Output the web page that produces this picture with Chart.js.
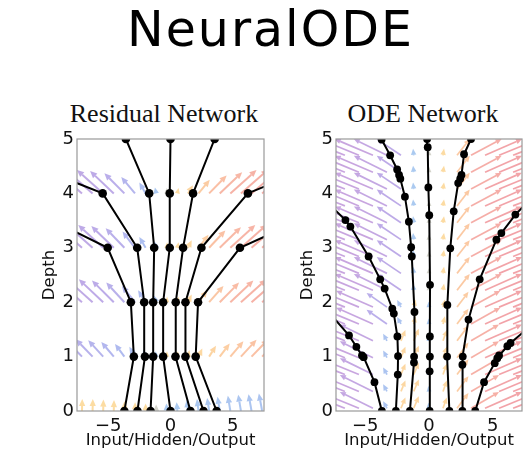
<!DOCTYPE html>
<html>
<head>
<meta charset="utf-8">
<script src="https://cdn.jsdelivr.net/npm/chart.js@4.4.0/dist/chart.umd.min.js"></script>
<style>
body { margin: 0; background: #fff; width: 531px; height: 456px; overflow: hidden; position: relative; }
#main { position: absolute; left: 0; top: 2px; width: 541px; text-align: center; font: 49px "DejaVu Sans"; letter-spacing: 2px; line-height: 56px; color: #000; }
.sub { position: absolute; top: 99px; width: 220px; text-align: center; font: 26px "Liberation Serif"; line-height: 30px; color: #111; }
canvas { position: absolute; top: 125px; }
</style>
</head>
<body>
<div id="main">NeuralODE</div>
<div class="sub" style="left:54px">Residual Network</div>
<div class="sub" style="left:313px">ODE Network</div>
<canvas id="res" width="270" height="331" style="left:0"></canvas>
<canvas id="ode" width="261" height="331" style="left:270px"></canvas>
<script>
'use strict';
let xTicks = [-5, 0, 5];
let depthTicks = [0, 1, 2, 3, 4, 5];

// residual network: x of each path at depth 0..5 (null = left the picture)
let resDepth = [0, 1, 2, 3, 4, 5];
let res1 = [-3.7, -2.94, -3.18, -5.04, -13.8, null];
let res2 = [-2.65, -2.05, -2.11, -2.67, -5.44, -16.3];
let res3 = [-1.6, -1.39, -1.39, -1.31, -1.71, -3.58];
let res4 = [0, -0.59, -0.59, -0.06, -0.06, 0];
let res5 = [1.6, 0.4, 0.42, 1.01, 1.81, 3.54];
let res6 = [2.65, 1.2, 1.2, 2.48, 6.21, 16.7];
let res7 = [3.7, 2.02, 2.21, 5.57, 15.2, null];

// ODE network: [x, depth] points along each path
let ode1 = [[-3.7, 0], [-4.28, 0.53], [-5.13, 0.99], [-5.26, 1.02], [-5.7, 1.18], [-6.28, 1.39], [-8.0, 1.85]];
let ode2 = [[-2.6, 0], [-2.45, 0.67], [-2.43, 1.01], [-2.48, 1.37], [-2.76, 1.79], [-2.88, 1.88], [-3.48, 2.25], [-3.83, 2.42], [-4.74, 2.84], [-6.17, 3.39], [-6.56, 3.51], [-8.0, 3.84]];
let ode3 = [[-1.5, 0], [-1.18, 0.89], [-1.17, 1.0], [-1.14, 1.82], [-1.35, 2.84], [-1.4, 3.01], [-1.58, 3.48], [-1.89, 3.94], [-2.25, 4.27], [-2.35, 4.34], [-2.5, 4.44], [-3.05, 4.7], [-3.72, 4.99]];
let ode4 = [[0.05, 0], [0.05, 0.73], [0.07, 1.0], [0.07, 1.37], [0.08, 2.32], [0.02, 3.6], [-0.05, 4.11], [-0.1, 4.85], [-0.15, 5.0]];
let ode5 = [[1.6, 0], [1.42, 1.0], [1.44, 1.95], [1.67, 2.99], [1.94, 3.67], [2.29, 4.19], [2.45, 4.27], [2.55, 4.34], [2.75, 4.72], [3.3, 5.0]];
let ode6 = [[2.62, 0], [2.62, 0.85], [2.65, 1.0], [3.1, 1.68], [3.98, 2.42], [5.29, 3.15], [5.68, 3.27], [6.78, 3.61], [8.0, 3.9]];
let ode7 = [[3.63, 0], [4.32, 0.53], [5.16, 0.88], [5.36, 0.97], [5.5, 1.02], [6.15, 1.19], [6.4, 1.25], [8.0, 1.57]];

// background arrows: tail positions and [dx, ddepth] per row
let resQx = [-7.1, -6.25, -5.4, -4.55, -3.7, -2.85, -2.0, -1.15, -0.3, 0.55, 1.4, 2.25, 3.1, 3.95, 4.8, 5.65, 6.5, 7.35];
let resQd = [0, 1, 2, 3, 4];
let resQ0 = [[0.02, 0.22], [0.02, 0.22], [0.02, 0.21], [0.02, 0.2], [0.01, 0.18], [0.01, 0.16], [0.01, 0.14], [0, 0.12], [-0.03, 0.14], [-0.06, 0.16], [-0.1, 0.2], [-0.13, 0.22], [-0.16, 0.24], [-0.18, 0.26], [-0.2, 0.28], [-0.22, 0.3], [-0.24, 0.31], [-0.26, 0.32]];
let resQ1 = [[-1.4, 0.33], [-1.35, 0.32], [-1.2, 0.3], [-1.0, 0.27], [-0.75, 0.23], [-0.45, 0.18], [-0.2, 0.13], [-0.05, 0.1], [0.02, 0.1], [0.05, 0.1], [0.12, 0.12], [0.3, 0.15], [0.55, 0.2], [0.8, 0.24], [1.05, 0.28], [1.25, 0.31], [1.35, 0.32], [1.45, 0.33]];
let resQ2 = [[-2.2, 0.44], [-2.1, 0.43], [-1.95, 0.42], [-1.75, 0.4], [-1.45, 0.36], [-1.05, 0.3], [-0.6, 0.22], [-0.2, 0.13], [0.03, 0.1], [0.1, 0.1], [0.3, 0.14], [0.7, 0.22], [1.15, 0.3], [1.55, 0.36], [1.85, 0.4], [2.05, 0.42], [2.15, 0.43], [2.25, 0.44]];
let resQ3 = [[-2.2, 0.44], [-2.1, 0.43], [-2.0, 0.42], [-1.8, 0.4], [-1.5, 0.36], [-1.0, 0.3], [-0.5, 0.2], [-0.15, 0.12], [0.03, 0.1], [0.1, 0.1], [0.3, 0.14], [0.8, 0.24], [1.3, 0.32], [1.7, 0.38], [2.0, 0.42], [2.1, 0.43], [2.2, 0.44], [2.2, 0.44]];
let resQ4 = [[-2.3, 0.45], [-2.2, 0.44], [-2.1, 0.43], [-1.9, 0.41], [-1.6, 0.37], [-1.1, 0.3], [-0.5, 0.2], [-0.1, 0.11], [0, 0.1], [0.1, 0.1], [0.4, 0.15], [0.9, 0.25], [1.4, 0.33], [1.8, 0.39], [2.1, 0.43], [2.2, 0.44], [2.3, 0.45], [2.3, 0.45]];

let odeQx = [-7.7, -6.6, -5.5, -4.4, -3.3, -2.2, -1.2, 0, 1.1, 2.2, 3.3, 4.4, 5.5, 6.6, 7.7];
let odeQd = [0.05, 0.36, 0.67, 0.98, 1.29, 1.6, 1.91, 2.22, 2.53, 2.84, 3.15, 3.46, 3.77, 4.08, 4.39, 4.7];
let odeQlow = [[-3.2, 0.3], [-3.2, 0.3], [-3.1, 0.3], [-2.6, 0.3], [-0.3, 0.13], [0.35, 0.2], [0.4, 0.22], [-0.05, 0.1], [0.3, 0.2], [0.9, 0.28], [2.2, 0.3], [2.9, 0.3], [3.1, 0.3], [3.2, 0.3], [3.2, 0.3]];
let odeQmid = [[-3.2, 0.3], [-3.2, 0.3], [-3.1, 0.3], [-2.9, 0.3], [-1.6, 0.26], [-0.3, 0.13], [0.15, 0.14], [-0.03, 0.1], [0.15, 0.14], [0.9, 0.28], [2.3, 0.3], [2.9, 0.3], [3.1, 0.3], [3.2, 0.3], [3.2, 0.3]];
let odeQhigh = [[-3.2, 0.3], [-3.2, 0.3], [-3.1, 0.3], [-3.0, 0.3], [-2.6, 0.3], [-1.9, 0.3], [-0.05, 0.12], [0, 0.1], [0.08, 0.12], [1.0, 0.3], [2.4, 0.3], [2.9, 0.3], [3.1, 0.3], [3.2, 0.3], [3.2, 0.3]];
let odeQrows = [odeQlow, odeQlow, odeQlow, odeQlow, odeQlow, odeQmid, odeQmid, odeQhigh, odeQhigh, odeQhigh, odeQhigh, odeQhigh, odeQhigh, odeQhigh, odeQhigh, odeQhigh];

let colorStops = [[-3, [160, 100, 200]], [-1.8, [140, 110, 215]], [-0.6, [115, 140, 230]], [-0.01, [110, 165, 230]],
                  [0.01, [250, 195, 95]], [0.6, [250, 180, 95]], [1.5, [245, 140, 100]], [3, [232, 95, 105]]];

function arrowColor(dx) {
    if (dx <= colorStops[0][0]) return colorStops[0][1];
    for (let i = 1; i < colorStops.length; i++) {
        if (dx <= colorStops[i][0]) {
            let a = colorStops[i - 1], b = colorStops[i];
            let t = (dx - a[0]) / (b[0] - a[0]);
            return a[1].map((v, k) => Math.round(v + (b[1][k] - v) * t));
        }
    }
    return colorStops[colorStops.length - 1][1];
}

function drawArrow(ctx, x0, y0, x1, y1, rgb, head) {
    let len = Math.hypot(x1 - x0, y1 - y0);
    if (len < 0.5) return;
    let ux = (x1 - x0) / len, uy = (y1 - y0) / len;
    let hl = Math.min(head, len);
    let hw = hl * 0.45;
    let bx = x1 - ux * hl, by = y1 - uy * hl;
    ctx.strokeStyle = ctx.fillStyle = 'rgba(' + rgb.join(',') + ',0.58)';
    if (len > hl) {
        ctx.beginPath();
        ctx.moveTo(x0, y0);
        ctx.lineTo(bx, by);
        ctx.stroke();
    }
    ctx.beginPath();
    ctx.moveTo(x1, y1);
    ctx.lineTo(bx - uy * hw, by + ux * hw);
    ctx.lineTo(bx + uy * hw, by - ux * hw);
    ctx.closePath();
    ctx.fill();
}

const quiverPlugin = {
    id: 'quiver',
    beforeDatasetsDraw(chart, args, opts) {
        const {ctx, chartArea: a, scales: {x, y}} = chart;
        ctx.save();
        ctx.beginPath();
        ctx.rect(a.left, a.top, a.right - a.left, a.bottom - a.top);
        ctx.clip();
        ctx.lineWidth = opts.width;
        ctx.lineCap = 'butt';
        opts.rows.forEach((d, r) => {
            opts.field[r].forEach((v, c) => {
                let xv = opts.cols[c];
                drawArrow(ctx, x.getPixelForValue(xv), y.getPixelForValue(d),
                    x.getPixelForValue(xv + v[0]), y.getPixelForValue(d + v[1]), arrowColor(v[0]), opts.head);
            });
        });
        ctx.restore();
    },
    afterDatasetsDraw(chart) {
        const {ctx, chartArea: a} = chart;
        ctx.save();
        ctx.strokeStyle = '#999';
        ctx.lineWidth = 1.2;
        ctx.strokeRect(a.left, a.top, a.right - a.left, a.bottom - a.top);
        ctx.restore();
    }
};

function pathDataset(points, radius) {
    return {
        data: points,
        showLine: true,
        borderColor: '#000',
        borderWidth: 2,
        pointRadius: radius,
        pointBackgroundColor: '#000',
        pointBorderWidth: 0,
        pointHoverRadius: radius
    };
}

function makeChart(id, xMin, xMax, axisWidth, padRight, titlePad, datasets, quiver) {
    return new Chart(document.getElementById(id), {
        type: 'scatter',
        data: {datasets: datasets},
        plugins: [quiverPlugin],
        options: {
            responsive: false,
            animation: false,
            events: [],
            layout: {padding: {top: 14, right: padRight, left: 0, bottom: 0}},
            plugins: {legend: {display: false}, tooltip: {enabled: false}, quiver: quiver},
            scales: {
                x: {
                    type: 'linear', min: xMin, max: xMax,
                    grid: {display: false, drawTicks: false},
                    border: {display: false},
                    afterBuildTicks: s => { s.ticks = xTicks.map(v => ({value: v})); },
                    afterFit: s => { s.height = 45; },
                    ticks: {color: '#111', padding: 5, font: {family: 'DejaVu Sans', size: 18}, callback: v => String(v).replace('-', '\u2212')},
                    title: {display: true, text: 'Input/Hidden/Output', color: '#111', padding: {top: 0, bottom: 5}, font: {family: 'DejaVu Sans', size: 16.5}}
                },
                y: {
                    type: 'linear', min: 0, max: 5,
                    grid: {display: false, drawTicks: false},
                    border: {display: false},
                    afterBuildTicks: s => { s.ticks = depthTicks.map(v => ({value: v})); },
                    afterFit: s => { s.width = axisWidth; },
                    ticks: {color: '#111', padding: 3, font: {family: 'DejaVu Sans', size: 18}},
                    title: {display: true, text: 'Depth', color: '#111', padding: {top: titlePad, bottom: 0}, font: {family: 'DejaVu Sans', size: 16.5}}
                }
            }
        }
    });
}

let resPaths = [res1, res2, res3, res4, res5, res6, res7];
let resSets = resPaths.map(p => pathDataset(
    p.map((x, i) => ({x: x, y: resDepth[i]})).filter(pt => pt.x !== null), 4.3));
makeChart('res', -7.5, 7.5, 77, 6, 40, resSets,
    {cols: resQx, rows: resQd, field: [resQ0, resQ1, resQ2, resQ3, resQ4], width: 2, head: 7});

let odePaths = [ode1, ode2, ode3, ode4, ode5, ode6, ode7];
let odeSets = odePaths.map(p => pathDataset(p.map(pt => ({x: pt[0], y: pt[1]})), 3.9));
makeChart('ode', -7.3, 7.3, 66, 9, 28, odeSets,
    {cols: odeQx, rows: odeQd, field: odeQrows, width: 1.7, head: 6});
</script>
</body>
</html>
